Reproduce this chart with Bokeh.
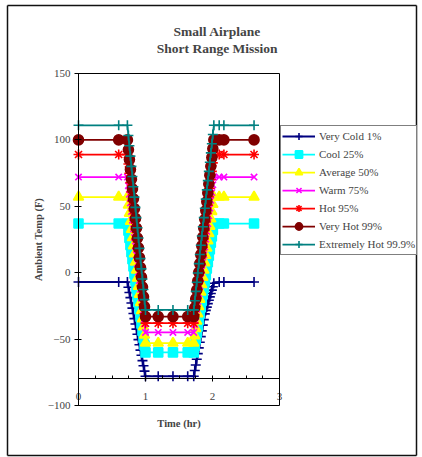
from bokeh.plotting import figure
from bokeh.models import Range1d, LinearAxis, FixedTicker, Legend, LegendItem, Label
from bokeh.embed import file_html
from bokeh.resources import INLINE

# ---------------- data ----------------
title_lines = ["Small Airplane", "Short Range Mission"]
x_label = "Time (hr)"
y_label = "Ambient Temp (F)"
x_ticks = [0, 1, 2, 3]
x_minor_ticks = [0.25, 0.5, 0.75, 1.25, 1.5, 1.75, 2.25, 2.5, 2.75]
y_ticks = [-100, -50, 0, 50, 100, 150]
x_bounds = (0, 3)
y_bounds = (-100, 150)
x_axis_cross = -80

series_names = ["Very Cold 1%", "Cool 25%", "Average 50%", "Warm 75%",
                "Hot 95%", "Very Hot 99%", "Extremely Hot 99.9%"]

time_hr = [0.0, 0.6, 0.73,
           0.745, 0.76, 0.775, 0.79, 0.805, 0.82, 0.835, 0.85, 0.865,
           0.88, 0.895, 0.91, 0.925, 0.94, 0.955, 0.97, 0.985, 1.0,
           1.19, 1.41, 1.63, 1.72,
           1.735, 1.75, 1.765, 1.78, 1.795, 1.81, 1.825, 1.84, 1.855, 1.87,
           1.885, 1.9, 1.915, 1.93, 1.945, 1.96, 1.975, 1.99, 2.005, 2.02,
           2.1, 2.17, 2.62]

very_cold = [-7, -7, -7,
             -10.9, -14.9, -18.8, -22.8, -26.7, -30.7, -34.6, -38.6, -42.5,
             -46.4, -50.4, -54.3, -58.3, -62.2, -66.2, -70.1, -74.1, -78,
             -78, -78, -78, -78,
             -73.7, -69.5, -65.2, -60.9, -56.6, -52.4, -48.1, -43.8, -39.5, -35.3,
             -31.0, -28.4, -25.9, -23.3, -20.8, -18.2, -15.7, -13.1, -10.6, -8.0,
             -7, -7, -7]

cool = [37, 37, 37,
        31.6, 26.2, 20.8, 15.4, 10.1, 4.7, -0.7, -6.1, -11.5,
        -16.9, -22.3, -27.7, -33.1, -38.4, -43.8, -49.2, -54.6, -60,
        -60, -60, -60, -60,
        -55.2, -50.3, -45.5, -40.6, -35.8, -30.9, -26.1, -21.2, -16.4, -11.5,
        -6.7, -1.8, 3.1, 7.9, 12.8, 17.6, 22.5, 27.3, 32.2, 37,
        37, 37, 37]

average = [57, 57, 57,
           50.9, 44.8, 38.7, 32.6, 26.4, 20.3, 14.2, 8.1, 2.0,
           -4.1, -10.2, -16.3, -22.4, -28.6, -34.7, -40.8, -46.9, -53,
           -53, -53, -53, -53,
           -47.5, -42, -36.5, -31, -25.5, -20, -14.5, -9, -3.5, 2,
           7.5, 13, 18.5, 24, 29.5, 35, 40.5, 46, 51.5, 57,
           57, 57, 57]

warm = [72, 72, 72,
        65.5, 59, 52.5, 46, 39.5, 33, 26.5, 20, 13.5,
        7, 0.5, -6, -12.5, -19, -25.5, -32, -38.5, -45,
        -45, -45, -45, -45,
        -39.2, -33.3, -27.5, -21.6, -15.8, -9.9, -4.1, 1.8, 7.7, 13.5,
        19.4, 25.2, 31.1, 36.9, 42.8, 48.6, 54.5, 60.3, 66.2, 72,
        72, 72, 72]

hot = [89, 89, 89,
       81.9, 74.9, 67.8, 60.8, 53.7, 46.7, 39.6, 32.6, 25.5,
       18.4, 11.4, 4.3, -2.7, -9.8, -16.8, -23.9, -30.9, -38,
       -38, -38, -38, -38,
       -31.7, -25.3, -19.0, -12.6, -6.3, 0.1, 6.5, 12.8, 19.2, 25.5,
       31.9, 38.2, 44.6, 50.9, 57.3, 63.6, 70.0, 76.3, 82.7, 89,
       89, 89, 89]

very_hot = [100, 100, 100,
            92.6, 85.2, 77.8, 70.4, 63.1, 55.7, 48.3, 40.9, 33.5,
            26.1, 18.7, 11.3, 3.9, -3.4, -10.8, -18.2, -25.6, -33,
            -33, -33, -33, -33,
            -26.4, -19.7, -13.1, -6.4, 0.3, 6.9, 13.6, 20.2, 26.9, 33.5,
            40.2, 46.8, 53.5, 60.1, 66.8, 73.4, 80.1, 86.7, 93.4, 100,
            100, 100, 100]

extremely_hot = [111, 111, 111,
                 103.3, 95.6, 87.8, 80.1, 72.4, 64.7, 56.9, 49.2, 41.5,
                 33.8, 26.1, 18.3, 10.6, 2.9, -4.8, -12.6, -20.3, -28,
                 -28, -28, -28, -28,
                 -21.1, -14.1, -7.2, -0.2, 6.8, 13.7, 20.7, 27.6, 34.6, 41.5,
                 48.5, 55.4, 62.4, 69.3, 76.3, 83.2, 90.2, 97.1, 104.1, 111,
                 111, 111, 111]

series_values = [very_cold, cool, average, warm, hot, very_hot, extremely_hot]

# ---------------- styles / layout ----------------
colors = ["#000080", "#00FFFF", "#FFFF00", "#FF00FF", "#FF0000", "#800000", "#008080"]
markers = ["cross", "square", "triangle", "x", "asterisk", "circle", "cross"]
marker_sizes = [10, 9, 10, 9, 10, 10, 10]
line_widths = [2, 1.75, 1.75, 1.75, 1.75, 1.75, 1.75]
FONT = "Liberation Serif"

W, H = 422, 457                 # whole canvas
PLOT_L, PLOT_R = 78, 279        # plot-area pixel edges
PLOT_T, PLOT_B = 73, 405
BOX_L, BOX_R, BOX_T, BOX_B = 6.5, 416, 4.5, 455   # outer chart border (pixels)
sx = (PLOT_R - PLOT_L) / (x_bounds[1] - x_bounds[0])
sy = (PLOT_B - PLOT_T) / (y_bounds[1] - y_bounds[0])


def px_to_x(px):
    return x_bounds[0] + (px - PLOT_L) / sx


def py_to_y(py):
    return y_bounds[1] - (py - PLOT_T) / sy


xr = Range1d(px_to_x(0), px_to_x(W))
yr = Range1d(py_to_y(H), py_to_y(0))

p = figure(width=W, height=H, x_range=xr, y_range=yr,
           x_axis_type=None, y_axis_type=None,
           toolbar_location=None, output_backend="svg", min_border=0)
p.outline_line_color = None
p.background_fill_color = "white"
p.border_fill_color = "white"


def plain_axis(loc, bounds, width=1, color="black"):
    ax = LinearAxis(ticker=FixedTicker(ticks=[], minor_ticks=[]),
                    fixed_location=loc, bounds=bounds)
    ax.major_label_text_alpha = 0
    ax.major_tick_in = 0
    ax.major_tick_out = 0
    ax.minor_tick_in = 0
    ax.minor_tick_out = 0
    ax.axis_line_color = color
    ax.axis_line_width = width
    return ax


# outer chart border
ob_x = (px_to_x(BOX_L), px_to_x(BOX_R))
ob_y = (py_to_y(BOX_B), py_to_y(BOX_T))
p.add_layout(plain_axis(ob_y[1], ob_x, 1.5, "#111111"), "above")
p.add_layout(plain_axis(ob_y[0], ob_x, 1.5, "#111111"), "below")
p.add_layout(plain_axis(ob_x[0], ob_y, 1.5, "#111111"), "left")
p.add_layout(plain_axis(ob_x[1], ob_y, 1.5, "#111111"), "right")

# series
items = []
for name, vals, c, m, ms, lw in zip(series_names, series_values, colors,
                                    markers, marker_sizes, line_widths):
    lr = p.line(time_hr, vals, line_color=c, line_width=lw)
    sr = p.scatter(time_hr, vals, marker=m, size=ms, line_color=c,
                   fill_color=c, line_width=1.6)
    items.append(LegendItem(label=name, renderers=[lr, sr]))

# plot-area frame (top, right, bottom) as bare axes
p.add_layout(plain_axis(y_bounds[1], x_bounds), "above")
p.add_layout(plain_axis(x_bounds[1], y_bounds), "right")
p.add_layout(plain_axis(y_bounds[0], x_bounds), "below")

# value axis
yax = LinearAxis(ticker=FixedTicker(ticks=y_ticks, minor_ticks=[]),
                 fixed_location=x_bounds[0], bounds=y_bounds)
yax.axis_label = y_label
yax.axis_label_text_font = FONT
yax.axis_label_text_font_style = "bold"
yax.axis_label_text_font_size = "10.5px"
yax.axis_label_standoff = 1
yax.major_label_text_font = FONT
yax.major_label_text_font_size = "11px"
yax.major_label_standoff = 4
yax.major_tick_in = 3
yax.major_tick_out = 4
yax.axis_line_color = "black"
yax.major_tick_line_color = "black"
p.add_layout(yax, "left")

# time axis, crossing at -80
xax = LinearAxis(ticker=FixedTicker(ticks=x_ticks, minor_ticks=x_minor_ticks),
                 fixed_location=x_axis_cross, bounds=x_bounds)
xax.major_label_text_font = FONT
xax.major_label_text_font_size = "11px"
xax.major_label_standoff = 11
xax.major_tick_in = 3
xax.major_tick_out = 3
xax.minor_tick_in = 3
xax.minor_tick_out = 0
xax.axis_line_color = "black"
xax.major_tick_line_color = "black"
xax.minor_tick_line_color = "black"
p.add_layout(xax, "below")

legend = Legend(items=items, location=(280, H - 255), padding=1, spacing=0,
                margin=0, glyph_width=33, glyph_height=18, label_height=18,
                label_standoff=4, border_line_color="black", border_line_width=1,
                background_fill_color="white", background_fill_alpha=1,
                label_text_font=FONT, label_text_font_size="11px")
p.add_layout(legend, "center")

# titles and x label
p.add_layout(Label(x=2.07, y=181.6, text=title_lines[0], text_align="center",
                   text_baseline="middle", text_font=FONT, text_font_style="bold",
                   text_font_size="13.5px"))
p.add_layout(Label(x=2.07, y=168.8, text=title_lines[1], text_align="center",
                   text_baseline="middle", text_font=FONT, text_font_style="bold",
                   text_font_size="13.5px"))
p.add_layout(Label(x=1.5, y=-113.5, text=x_label, text_align="center",
                   text_baseline="middle", text_font=FONT, text_font_style="bold",
                   text_font_size="10.5px"))

open("out.html", "w").write(file_html(p, INLINE))
